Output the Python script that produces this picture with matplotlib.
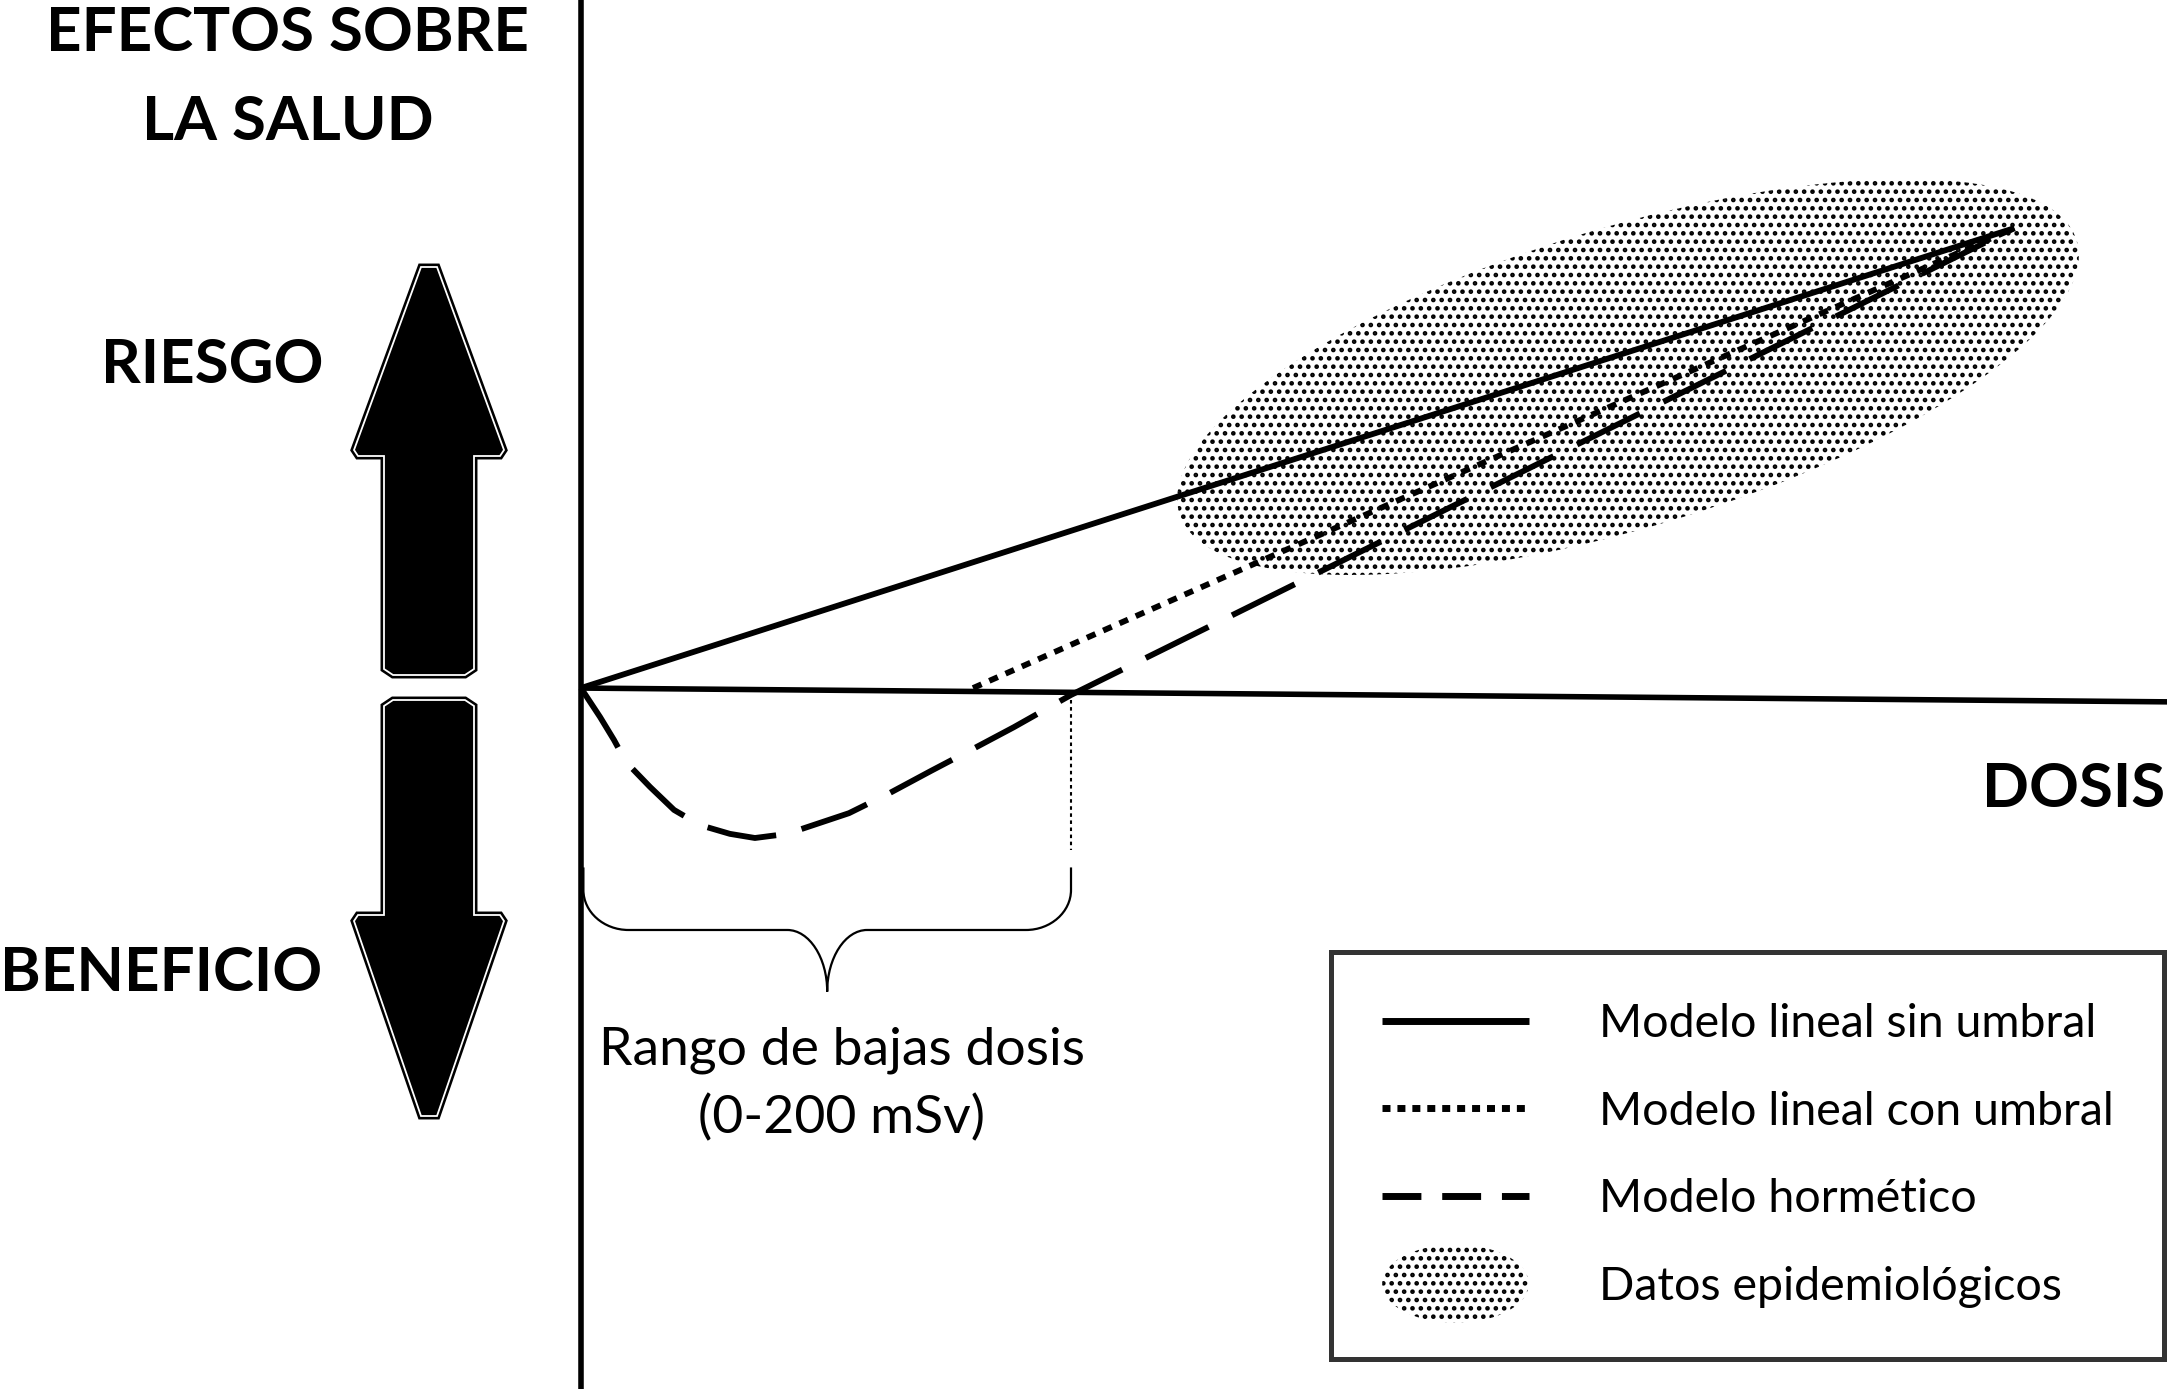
import matplotlib
matplotlib.use('Agg')
import matplotlib.pyplot as plt
import matplotlib.patches as mpatches
from matplotlib.path import Path
from matplotlib.lines import Line2D
from matplotlib.legend_handler import HandlerPatch

W, H = 2167, 1389

# dose (mSv) vs effect (arbitrary units)
lnt_dose = [0, 585]
lnt_effect = [0, 100]
thr_dose = [160, 585]
thr_effect = [0, 100]
horm_dose = [0, 7.8, 13.5, 18.4, 28.2, 38.0, 48.6, 60.8, 71.0, 84.1, 97.6,
             109.4, 126.1, 142.9, 160.8, 176.7, 200, 585]
horm_effect = [0, -6.3, -11.3, -16.1, -21.5, -26.5, -29.8, -31.7, -32.6, -31.7,
               -29.3, -27.2, -22.8, -18.0, -13.0, -8.5, -1.5, 100]
low_range = [0, 200]
axis_dose = [0, 648]
axis_effect = [0, -3]

labels = ['Modelo lineal sin umbral', 'Modelo lineal con umbral',
          'Modelo hormético', 'Datos epidemiológicos']

plt.rcParams['font.family'] = ['Lato', 'DejaVu Sans']
plt.rcParams['hatch.linewidth'] = 2.1

fig = plt.figure(figsize=(W / 100, H / 100), dpi=100)

# pixel overlay for the decorations
deco = fig.add_axes([0, 0, 1, 1], zorder=0)
deco.set_xlim(0, W)
deco.set_ylim(H, 0)
deco.axis('off')

ax = fig.add_axes([0, 0, 1, 1], zorder=1)
ax.patch.set_alpha(0)
ax.set_xlim(-237.1, 647.3)
ax.set_ylim(-152.4, 149.6)
ax.axis('off')

# epidemiological data cloud
deco.add_patch(mpatches.Ellipse((1628, 377), 938, 300, angle=-16.9,
                                facecolor='none', edgecolor='k', lw=0, hatch='..'))

# axes
ax.axvline(0, color='k', lw=4)
ax.plot(axis_dose, axis_effect, color='k', lw=4, solid_capstyle='butt')

# models
ax.plot(lnt_dose, lnt_effect, color='k', lw=4.2, solid_capstyle='butt')
ax.plot(thr_dose, thr_effect, color='k', lw=4.2, ls=(0, (1.6, 1.45)))
ax.plot(horm_dose, horm_effect, color='k', lw=4.2, ls=(0, (12, 4.5)))

# low dose range marker
ax.plot([low_range[1]] * 2, [-2.6, -35.2], color='k', lw=1.5, ls=(0, (1.7, 1.7)))

# brace under the low dose range
x0, x1 = low_range[0] + 1, low_range[1]
xc = (x0 + x1) / 2
yt, ym, yb = -39, -52.6, -66
r, h, m = 18.4, 8.7, 16.3
k = 0.45
verts = [(x0, yt), (x0, ym + h),
         (x0, ym + h * k), (x0 + r * k, ym), (x0 + r, ym),
         (xc - m, ym),
         (xc - m * k, ym), (xc, ym - (ym - yb) * k), (xc, yb),
         (xc, ym - (ym - yb) * k), (xc + m * k, ym), (xc + m, ym),
         (x1 - r, ym),
         (x1 - r * k, ym), (x1, ym + h * k), (x1, ym + h),
         (x1, yt)]
codes = [Path.MOVETO, Path.LINETO,
         Path.CURVE4, Path.CURVE4, Path.CURVE4,
         Path.LINETO,
         Path.CURVE4, Path.CURVE4, Path.CURVE4,
         Path.CURVE4, Path.CURVE4, Path.CURVE4,
         Path.LINETO,
         Path.CURVE4, Path.CURVE4, Path.CURVE4,
         Path.LINETO]
ax.add_patch(mpatches.PathPatch(Path(verts, codes), facecolor='none',
                                edgecolor='k', lw=1.6))

# risk / benefit arrows
def big_arrow(tip, base, shaft_end, cx=429, hw=77, sw=45, c=6):
    s = 1 if tip < base else -1
    pts = [(cx - 8, tip), (cx + 8, tip),
           (cx + hw - 2, base - s * c), (cx + hw - 6, base),
           (cx + sw, base), (cx + sw, shaft_end - s * c),
           (cx + sw - c * 1.5, shaft_end), (cx - sw + c * 1.5, shaft_end),
           (cx - sw, shaft_end - s * c), (cx - sw, base),
           (cx - hw + 6, base), (cx - hw + 2, base - s * c)]
    deco.add_patch(mpatches.Polygon(pts, closed=True, facecolor='k',
                                    edgecolor='k', lw=5, joinstyle='miter'))
    deco.add_patch(mpatches.Polygon(pts, closed=True, facecolor='none',
                                    edgecolor='white', lw=1.3, joinstyle='miter'))

big_arrow(267, 456, 675)
big_arrow(1116, 915, 700)

bold = dict(fontsize=44.5, fontweight='bold', va='baseline')
deco.text(287, 51, 'EFECTOS SOBRE', ha='center', **bold)
deco.text(288, 140, 'LA SALUD', ha='center', **bold)
deco.text(212, 383, 'RIESGO', ha='center', **bold)
deco.text(0, 991, 'BENEFICIO', ha='left', **bold)
deco.text(2165, 807, 'DOSIS', ha='right', **bold)

deco.text(842, 1064, 'Rango de bajas dosis', ha='center', va='baseline', fontsize=38.5)
deco.text(842, 1133, '(0-200 mSv)', ha='center', va='baseline', fontsize=38.5)

# legend
class HandlerEllipse(HandlerPatch):
    def create_artists(self, legend, orig_handle, xdescent, ydescent,
                       width, height, fontsize, trans):
        center = 0.5 * width - 0.5 * xdescent, 0.5 * height - 0.5 * ydescent
        p = mpatches.Ellipse(xy=center, width=width + xdescent,
                             height=(height + ydescent) * 2.4)
        self.update_prop(p, orig_handle, legend)
        p.set_transform(trans)
        return [p]

handles = [Line2D([], [], color='k', lw=5, solid_capstyle='butt'),
           Line2D([], [], color='k', lw=5, ls=(0, (1.15, 1.0))),
           Line2D([], [], color='k', lw=5, ls=(0, (5.6, 3.0))),
           mpatches.Ellipse((0, 0), 1, 1, facecolor='none', edgecolor='k',
                            lw=0, hatch='..')]
leg = ax.legend(handles, labels, loc='upper left',
                bbox_to_anchor=(1331, 952), bbox_transform=deco.transData,
                fontsize=33.5, frameon=True, fancybox=False, borderaxespad=0,
                borderpad=1.1, handlelength=3.15, handletextpad=1.5,
                labelspacing=0.98,
                handler_map={mpatches.Ellipse: HandlerEllipse()})
leg.get_frame().set_edgecolor('k')
leg.get_frame().set_linewidth(3.6)

fig.savefig('out.png', dpi=100, facecolor='white')
